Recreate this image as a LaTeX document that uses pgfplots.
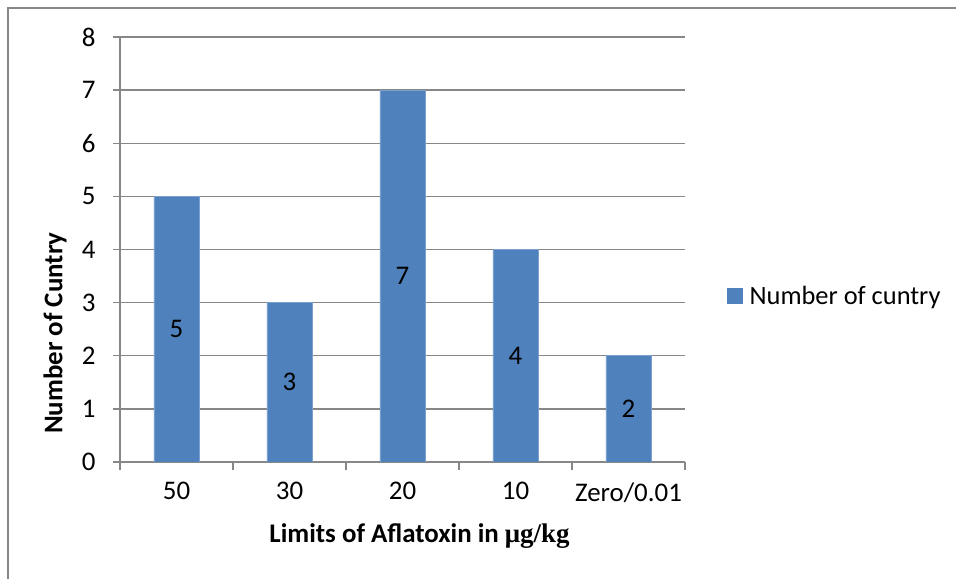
\documentclass[border=0pt]{standalone}
\usepackage{pgfplots}
\pgfplotsset{compat=1.18}
\usepackage{fontspec}
\setmainfont{Carlito}
\newfontfamily\unitfont{Liberation Serif}
\definecolor{barblue}{HTML}{4F81BD}
\definecolor{gridgray}{HTML}{878787}

\begin{document}
\begin{tikzpicture}
\path[use as bounding box] (0,0) rectangle (956bp,579bp);
% outer chart frame
\draw[gridgray, line width=1.6bp] (8bp,0) -- (8bp,571bp) -- (956bp,571bp);
\begin{axis}[
  at={(120bp,117bp)}, anchor=south west,
  scale only axis, width=565bp, height=425bp,
  xmin=-0.5, xmax=4.5, ymin=0, ymax=8,
  axis x line*=bottom, axis y line*=left,
  axis line style={-, gridgray, line width=1.3bp},
  /pgf/number format/assume math mode=true,
  ytick={0,...,8},
  ymajorgrids, grid style={gridgray, line width=1.3bp},
  tick align=outside,
  major tick length=7bp, minor tick length=8bp,
  tick style={gridgray, line width=1.3bp},
  xtick={0,...,4},
  xticklabels={50,30,20,10,Zero/0.01},
  major x tick style={draw=none},
  minor xtick={-0.5,0.5,...,4.5},
  ticklabel style={font=\fontsize{27}{31}\selectfont, text=black},
  xticklabel style={yshift=-10bp},
  yticklabel style={xshift=-14bp},
  xlabel={Limits of Aflatoxin in {\unitfont\bfseries μg/kg}},
  ylabel={Number of Cuntry},
  label style={font=\bfseries\fontsize{27}{31}\selectfont},
  xlabel style={at={(axis description cs:0.53,-0.174)}, anchor=center},
  ylabel style={at={(axis description cs:-0.115,0.303)}, anchor=center},
  legend style={at={(axis description cs:1.074,0.39)}, anchor=west,
    draw=none, inner sep=0pt, font=\fontsize{26.5}{31}\selectfont},
  legend image code/.code={%
    \fill[barblue] (0bp,-7.5bp) rectangle (15bp,7.5bp);
    \path (20bp,0bp);},
]
\addplot[ybar, bar width=0.4, fill=barblue, draw=barblue!75!white, line width=0.6bp,
  nodes near coords,
  visualization depends on={rawy \as \rawy},
  every node near coord/.append style={anchor=center, yshift=-\rawy*26.5625bp,
    font=\fontsize{27}{31}\selectfont, text=black}]
  coordinates {(0,5) (1,3) (2,7) (3,4) (4,2)};
\addlegendentry{Number of cuntry}
\end{axis}
\end{tikzpicture}
\end{document}
